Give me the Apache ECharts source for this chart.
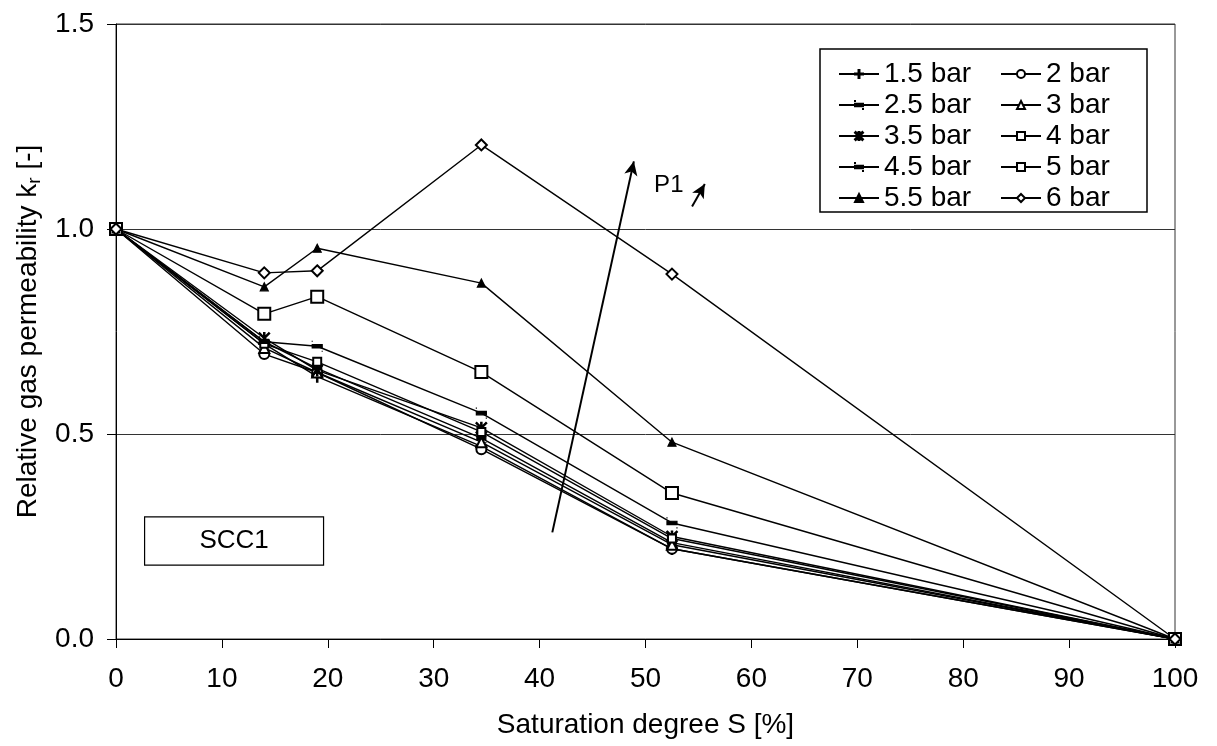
<!DOCTYPE html>
<html>
<head>
<meta charset="utf-8">
<script src="https://cdn.jsdelivr.net/npm/echarts@6/dist/echarts.min.js"></script>
<style>
  html, body { margin: 0; background: #fff; }
  #main { width: 1217px; height: 746px; }
</style>
</head>
<body>
<div id="main"></div>
<script>
// saturation degree S [%] of the measurement points
const satX = [0, 14, 19, 34.5, 52.5, 100]
// relative gas permeability kr [-] per inlet pressure
const kr15 = [1.0, 0.72, 0.64, 0.47, 0.22, 0]
const kr20 = [1.0, 0.695, 0.65, 0.463, 0.22, 0]
const kr25 = [1.0, 0.725, 0.66, 0.49, 0.235, 0]
const kr30 = [1.0, 0.71, 0.65, 0.48, 0.23, 0]
const kr35 = [1.0, 0.734, 0.655, 0.515, 0.25, 0]
const kr40 = [1.0, 0.72, 0.676, 0.505, 0.245, 0]
const kr45 = [1.0, 0.725, 0.714, 0.551, 0.283, 0]
const kr50 = [1.0, 0.793, 0.835, 0.651, 0.356, 0]
const kr55 = [1.0, 0.859, 0.953, 0.868, 0.48, 0]
const kr60 = [1.0, 0.893, 0.898, 1.205, 0.89, 0]

const col1 = ['1.5 bar', '2.5 bar', '3.5 bar', '4.5 bar', '5.5 bar']
const col2 = ['2 bar', '3 bar', '4 bar', '5 bar', '6 bar']

// arrow "P1" (pressure increases)
const arrowFrom = [41.2, 0.26]
const arrowTo = [48.9, 1.165]
const smallFrom = [54.4, 1.055]
const smallTo = [55.6, 1.11]

const FONT = 'Liberation Sans'
const PLUS = 'path://M4.4,0h1.2v10h-1.2z M0,4.4h10v1.2h-10z'
// short bar, padded with two invisible specks so it keeps a square box (also in the legend)
const DASH = 'path://M0,0h0.01v0.01h-0.01z M0,3.3h10v3.4h-10z M9.99,9.99h0.01v0.01h-0.01z'
const STAR = 'path://M4.4,0h1.2v10h-1.2z M0.8,0L10,9.2L9.2,10L0,0.8z M9.2,0L10,0.8L0.8,10L0,9.2z'

const lines = [
  { name: '1.5 bar', y: kr15, symbol: PLUS, size: 11 },
  { name: '2 bar', y: kr20, symbol: 'emptyCircle', size: 10 },
  { name: '2.5 bar', y: kr25, symbol: DASH, size: 9 },
  { name: '3 bar', y: kr30, symbol: 'emptyTriangle', size: 10 },
  { name: '3.5 bar', y: kr35, symbol: STAR, size: 11 },
  { name: '4 bar', y: kr40, symbol: 'emptyRect', size: 8 },
  { name: '4.5 bar', y: kr45, symbol: DASH, size: 10 },
  { name: '5 bar', y: kr50, symbol: 'emptyRect', size: 12 },
  { name: '5.5 bar', y: kr55, symbol: 'triangle', size: 8 },
  { name: '6 bar', y: kr60, symbol: 'emptyDiamond', size: 11 }
]

const chart = echarts.init(document.getElementById('main'))

const series = lines.map(l => ({
  name: l.name,
  type: 'line',
  data: satX.map((x, i) => [x, l.y[i]]),
  symbol: l.symbol,
  symbolSize: l.size,
  showAllSymbol: true,
  clip: false,
  lineStyle: { color: '#000', width: 1.4 },
  itemStyle: { color: '#000', borderColor: '#000', borderWidth: 1.2 }
}))

series.push({
  name: 'P1',
  type: 'line',
  data: [],
  markLine: {
    silent: true,
    symbol: ['none', 'arrow'],
    symbolSize: [10, 14],
    label: { show: false },
    lineStyle: { color: '#000', width: 2, type: 'solid' },
    data: [
      [{ coord: arrowFrom }, { coord: arrowTo }],
      [{ coord: smallFrom }, { coord: smallTo }]
    ]
  }
})

const legendBase = {
  orient: 'vertical',
  top: 55,
  itemWidth: 40,
  itemHeight: 10,
  itemGap: 3,
  selectedMode: false,
  textStyle: { fontFamily: FONT, fontSize: 28, color: '#000', lineHeight: 28 }
}

chart.setOption({
  animation: false,
  backgroundColor: '#fff',
  textStyle: { fontFamily: FONT },
  grid: {
    left: 116, right: 42, top: 24, bottom: 107,
    show: true, borderColor: '#333', borderWidth: 1
  },
  legend: [
    Object.assign({}, legendBase, { data: col1, left: 833 }),
    Object.assign({}, legendBase, { data: col2, left: 995 })
  ],
  xAxis: {
    type: 'value',
    min: 0, max: 100, interval: 10,
    name: 'Saturation degree S [%]',
    nameLocation: 'middle',
    nameGap: 72,
    nameTextStyle: { fontFamily: FONT, fontSize: 28, color: '#000' },
    axisLine: { lineStyle: { color: '#000', width: 1 } },
    axisTick: { show: true, length: 9, lineStyle: { color: '#000' } },
    axisLabel: { fontFamily: FONT, fontSize: 28, color: '#000', margin: 26 },
    splitLine: { show: false }
  },
  yAxis: {
    type: 'value',
    min: 0, max: 1.5, interval: 0.5,
    name: 'Relative gas permeability k{sub|r} [-]',
    nameLocation: 'middle',
    nameGap: 72,
    nameTextStyle: {
      fontFamily: FONT, fontSize: 28, color: '#000',
      rich: { sub: { fontFamily: FONT, fontSize: 19, color: '#000', verticalAlign: 'bottom', padding: [12, 0, 0, 0] } }
    },
    axisLine: { show: true, lineStyle: { color: '#000', width: 1 } },
    axisTick: { show: true, length: 9, lineStyle: { color: '#000' } },
    axisLabel: { fontFamily: FONT, fontSize: 28, color: '#000', margin: 22, formatter: v => v.toFixed(1) },
    splitLine: { show: true, lineStyle: { color: '#333', width: 1 } }
  },
  series: series
})

// annotations placed in data coordinates
const px = p => chart.convertToPixel({ gridIndex: 0 }, p)
const boxA = px([2.7, 0.298])
const boxB = px([19.6, 0.18])
const p1 = px([52.2, 1.107])

chart.setOption({
  graphic: [
    {
      type: 'rect',
      shape: { x: 820, y: 49, width: 327, height: 163 },
      style: { fill: 'none', stroke: '#000', lineWidth: 1.5 },
      z: 10
    },
    {
      type: 'rect',
      shape: { x: boxA[0], y: boxA[1], width: boxB[0] - boxA[0], height: boxB[1] - boxA[1] },
      style: { fill: '#fff', stroke: '#000', lineWidth: 1.2 },
      z: 10
    },
    {
      type: 'text',
      x: (boxA[0] + boxB[0]) / 2,
      y: (boxA[1] + boxB[1]) / 2,
      style: { text: 'SCC1', font: '26px "Liberation Sans"', fill: '#000', align: 'center', verticalAlign: 'middle' },
      z: 11
    },
    {
      type: 'text',
      x: p1[0],
      y: p1[1],
      style: { text: 'P1', font: '24px "Liberation Sans"', fill: '#000', align: 'center', verticalAlign: 'middle' },
      z: 11
    }
  ]
})
</script>
</body>
</html>
